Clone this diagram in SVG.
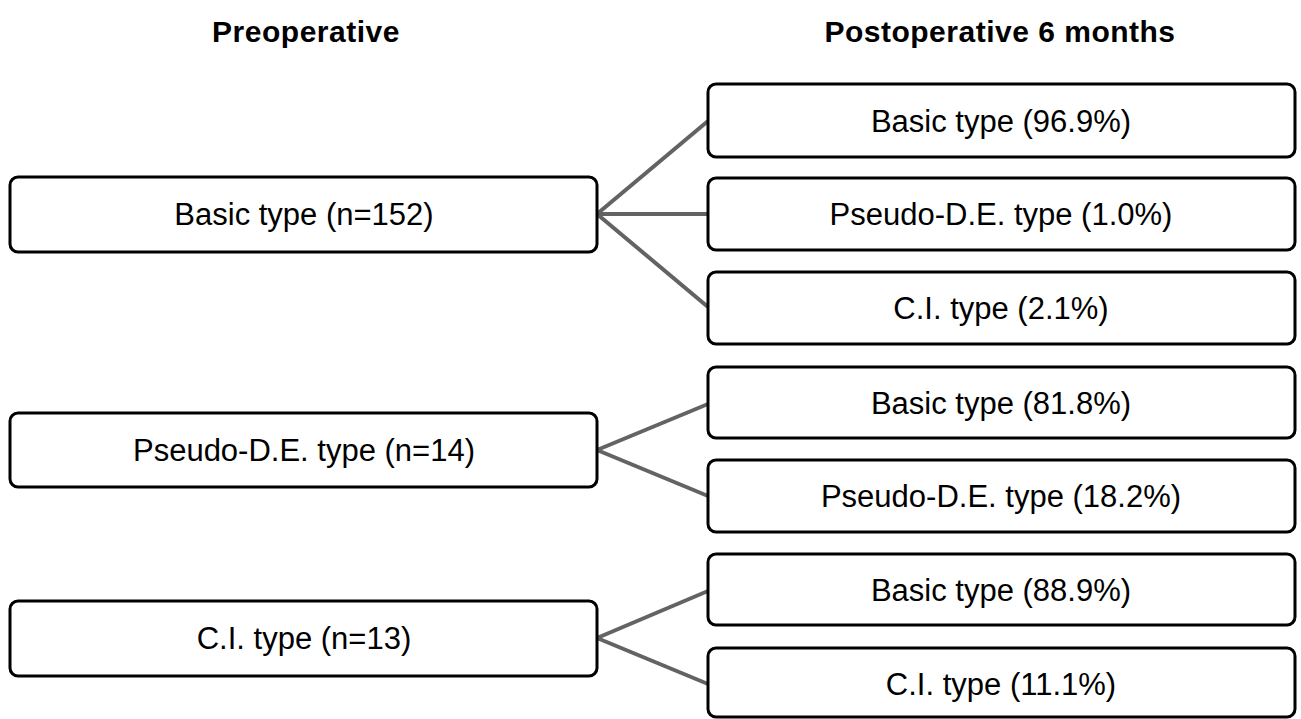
<svg xmlns="http://www.w3.org/2000/svg" width="1301" height="719" viewBox="0 0 1301 719">
<style>
.box{fill:#fff;stroke:#000;stroke-width:3}
.lbl{font-family:"Liberation Sans",Arial,sans-serif;font-size:31px;fill:#000;text-anchor:middle;dominant-baseline:central}
.ttl{font-family:"Liberation Sans",Arial,sans-serif;font-size:30px;font-weight:bold;letter-spacing:0.5px;fill:#000;text-anchor:middle}
.con{stroke:#636363;stroke-width:4;fill:none}
</style>
<rect width="1301" height="719" fill="#fff"/>
<text class="ttl" x="306" y="42">Preoperative</text>
<text class="ttl" x="1000" y="42">Postoperative 6 months</text>
<g id="connectors">
<line class="con" x1="597" y1="214" x2="708" y2="121"/>
<line class="con" x1="597" y1="214" x2="708" y2="214"/>
<line class="con" x1="597" y1="214" x2="708" y2="307"/>
<line class="con" x1="597" y1="450" x2="708" y2="404"/>
<line class="con" x1="597" y1="450" x2="708" y2="496"/>
<line class="con" x1="597" y1="638" x2="708" y2="591"/>
<line class="con" x1="597" y1="638" x2="708" y2="684"/>
</g>
<g id="pre-basic"><rect class="box" x="10" y="177" width="587" height="75" rx="8"/><text class="lbl" x="304" y="214">Basic type (n=152)</text></g>
<g id="pre-pseudo"><rect class="box" x="10" y="413" width="587" height="74" rx="8"/><text class="lbl" x="304" y="450">Pseudo-D.E. type (n=14)</text></g>
<g id="pre-ci"><rect class="box" x="10" y="601" width="587" height="75" rx="8"/><text class="lbl" x="304" y="638">C.I. type (n=13)</text></g>
<g id="post-b-basic"><rect class="box" x="708" y="84" width="587" height="73" rx="8"/><text class="lbl" x="1001" y="121">Basic type (96.9%)</text></g>
<g id="post-b-pseudo"><rect class="box" x="708" y="178" width="587" height="72" rx="8"/><text class="lbl" x="1001" y="214">Pseudo-D.E. type (1.0%)</text></g>
<g id="post-b-ci"><rect class="box" x="708" y="272" width="587" height="72" rx="8"/><text class="lbl" x="1001" y="308">C.I. type (2.1%)</text></g>
<g id="post-p-basic"><rect class="box" x="708" y="367" width="587" height="71" rx="8"/><text class="lbl" x="1001" y="403">Basic type (81.8%)</text></g>
<g id="post-p-pseudo"><rect class="box" x="708" y="460" width="587" height="72" rx="8"/><text class="lbl" x="1001" y="496">Pseudo-D.E. type (18.2%)</text></g>
<g id="post-c-basic"><rect class="box" x="708" y="554" width="587" height="71" rx="8"/><text class="lbl" x="1001" y="590">Basic type (88.9%)</text></g>
<g id="post-c-ci"><rect class="box" x="708" y="648" width="587" height="69" rx="8"/><text class="lbl" x="1001" y="684">C.I. type (11.1%)</text></g>
</svg>
